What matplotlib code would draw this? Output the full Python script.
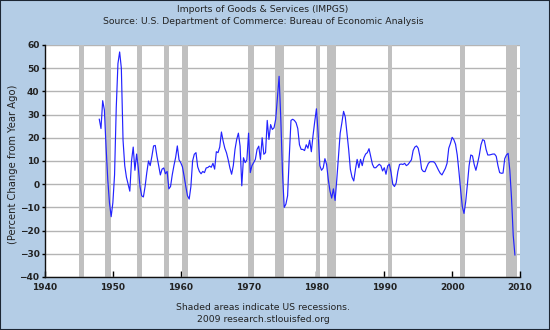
import numpy as np
import matplotlib.pyplot as plt
from matplotlib.patches import Rectangle

# Imports of goods & services, percent change from year ago (quarterly, from 1948 Q1)
start_year = 1948
pct_1948_1959 = [28, 24, 36, 32, 16, 2, -8, -14, -8, 4, 33, 52,
                 57, 50, 19, 8, 3, 0, -3, 10, 16, 6, 13, 7,
                 -1, -5, -5.5, -1, 5, 10, 8, 12, 16.5, 16.7, 12, 8,
                 4, 6.5, 7, 4.5, 5.5, -2, -1, 4, 8, 11.5, 16.5, 10.5]
pct_1960_1969 = [9.3, 7.5, 3.5, -1, -5, -6.4, -1, 10, 12.9, 13.6, 7.5, 5.5,
                 4.5, 5.5, 5, 7, 7.2, 7.8, 7.3, 9, 6.5, 14, 13.6, 16,
                 22.5, 18.6, 15.5, 13.5, 10.5, 7, 4.3, 8, 15, 19.3, 22, 16.4,
                 -0.7, 11.4, 9.3, 10.5]
pct_1970_1979 = [22, 5, 8, 9.3, 10.7, 15, 16.4, 10.7, 20, 12.9, 13.6, 27.5,
                 19.3, 25.7, 23.6, 24.3, 28, 37, 46.5, 28, 5, -10, -8.6, -5,
                 12, 27.5, 28, 27.5, 26.5, 24, 17, 15, 15, 14.5, 17, 15.5,
                 19, 14, 21, 27]
pct_1980_1989 = [32.5, 22, 8, 6, 7, 11, 8.5, 2, -3, -6, -2, -7,
                 2, 12, 22, 26.5, 31.4, 29, 22, 15, 6.4, 3, 1.4, 6.4,
                 10.7, 7.1, 10.7, 8, 11.4, 13, 13.6, 15.3, 12, 8.6, 7.1, 7.1,
                 7.9, 8.6, 8, 5.7]
pct_1990_1999 = [7.1, 4.3, 7.9, 8.6, 5, 0, -1, 0.5, 5.5, 8.5, 8.7, 8.5,
                 9, 8, 8.5, 9.5, 10.5, 14.5, 16, 16.5, 15.5, 12, 6.5, 5.5,
                 5.4, 7.3, 9, 9.7, 9.7, 9.7, 9, 7.5, 6, 4.7, 4, 5.4,
                 6.8, 9, 15.5, 17.6]
pct_2000_2009 = [20.2, 19.2, 17.2, 12.6, 5.5, -2.5, -9.7, -12.6, -7.5, 0, 8, 12.6,
                 12.2, 8.5, 6, 9, 12.5, 17, 19.2, 18.8, 15, 12.6, 12.6, 12.8,
                 13, 13, 12, 8, 5, 4.7, 4.8, 11, 12.6, 13.3, 6, -6,
                 -22, -30.5]

# US recessions (decimal years)
recession_start = [1945.08, 1948.83, 1953.5, 1957.58, 1960.25, 1969.92,
                   1973.83, 1980.0, 1981.5, 1990.5, 2001.17, 2007.92]
recession_end = [1945.75, 1949.75, 1954.33, 1958.25, 1961.08, 1970.83,
                 1975.17, 1980.5, 1982.83, 1991.17, 2001.83, 2009.5]

year_ticks = [1940, 1950, 1960, 1970, 1980, 1990, 2000, 2010]
pct_ticks = [-40, -30, -20, -10, 0, 10, 20, 30, 40, 50, 60]

pct_change = np.array(pct_1948_1959 + pct_1960_1969 + pct_1970_1979 +
                      pct_1980_1989 + pct_1990_1999 + pct_2000_2009)
years = start_year + np.arange(len(pct_change)) / 4.0

bg = '#b4cde6'
txt = '#222222'
fig = plt.figure(figsize=(5.5, 3.3), dpi=100, facecolor=bg)
ax = fig.add_axes([45 / 550, 1 - 277 / 330, 475 / 550, 232 / 330])
ax.set_facecolor('white')

# recession bars
for s, e in zip(recession_start, recession_end):
    ax.axvspan(s, e, color='#c0c0c0', lw=0, zorder=1)

ax.plot(years, pct_change, color='#2323ff', lw=0.85, zorder=3)

ax.set_xlim(1940, 2010)
ax.set_ylim(-40, 60)
ax.set_xticks(year_ticks)
ax.set_yticks(pct_ticks)
ax.yaxis.grid(True, color='#b4b4b4', lw=1)
ax.set_axisbelow(True)

for side in ['top', 'right']:
    ax.spines[side].set_visible(False)
for side in ['left', 'bottom']:
    ax.spines[side].set_color('#111111')
    ax.spines[side].set_linewidth(1)

ax.tick_params(axis='x', direction='in', length=4, width=1, pad=4,
               labelsize=6.5, labelcolor=txt)
ax.tick_params(axis='y', direction='out', length=2.5, width=1, pad=1.5,
               labelsize=6.5, labelcolor=txt)
for lab in ax.get_xticklabels() + ax.get_yticklabels():
    lab.set_fontweight('bold')

# titles and notes
fs = 6.7
fig.text(263 / 550, 1 - 10 / 330, 'Imports of Goods & Services (IMPGS)',
         ha='center', va='center', fontsize=fs, color=txt)
fig.text(263 / 550, 1 - 22 / 330,
         'Source: U.S. Department of Commerce: Bureau of Economic Analysis',
         ha='center', va='center', fontsize=fs, color=txt)
fig.text(13 / 550, 0.503, '(Percent Change from Year Ago)', rotation=90,
         ha='center', va='center', fontsize=7.2, color=txt)
fig.text(263 / 550, 1 - 307 / 330, 'Shaded areas indicate US recessions.',
         ha='center', va='center', fontsize=fs, color=txt)
fig.text(263 / 550, 1 - 319 / 330, '2009 research.stlouisfed.org',
         ha='center', va='center', fontsize=fs, color=txt)

# dark frame round the whole picture
fig.patches.append(Rectangle((0, 0), 1, 1, transform=fig.transFigure,
                             fill=False, edgecolor='#1c2633', lw=1.5))

fig.savefig('out.png', dpi=100, facecolor=bg)
